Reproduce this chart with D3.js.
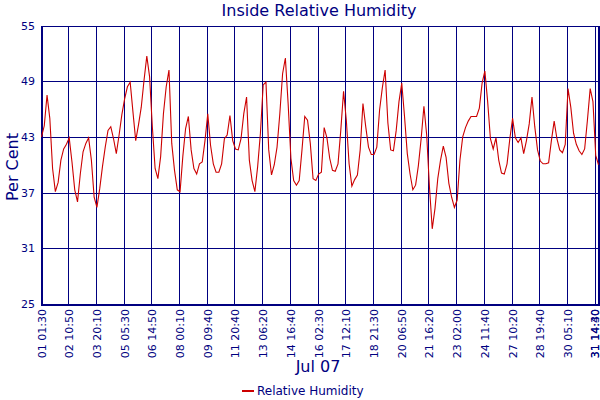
<!DOCTYPE html>
<html>
<head>
<meta charset="utf-8">
<script src="https://cdn.jsdelivr.net/npm/d3@7"></script>
<style>
	body { margin: 0; background: #fff; }
	text { font-family: "DejaVu Sans", Verdana, sans-serif; fill: #000080; }
</style>
</head>
<body>
<div id="root"></div>
<script>
// readings, one sample per ~2.8px of the original x axis
const humidity = [
	43.0, 44.2, 47.5, 45.0, 39.6, 37.1, 38.1, 40.5, 41.7, 42.2,
	42.9, 40.3, 37.3, 36.0, 39.0, 41.4, 42.3, 42.9, 40.5, 36.5,
	35.4, 37.4, 39.8, 41.9, 43.7, 44.1, 42.8, 41.2, 43.2, 45.4,
	47.1, 48.4, 48.9, 45.7, 42.6, 44.3, 46.2, 49.1, 51.7, 49.5,
	44.1, 39.6, 38.5, 40.9, 45.5, 48.4, 50.2, 42.3, 39.4, 37.3,
	37.1, 40.9, 43.9, 45.2, 41.6, 39.6, 39.0, 40.1, 40.3, 42.6,
	45.5, 42.1, 40.1, 39.2, 39.2, 40.1, 42.8, 43.2, 45.3, 42.6,
	41.7, 41.6, 42.8, 45.5, 47.3, 40.5, 38.3, 37.1, 39.8, 43.4,
	48.6, 48.9, 41.6, 38.9, 40.0, 41.9, 45.5, 49.8, 51.5, 46.6,
	40.7, 38.3, 37.8, 38.3, 41.6, 45.2, 44.8, 42.3, 38.5, 38.3,
	39.0, 39.2, 44.0, 42.9, 40.7, 39.4, 39.3, 40.1, 43.7, 47.9,
	44.8, 40.1, 37.7, 38.4, 38.9, 41.6, 46.6, 44.1, 41.9, 41.1,
	41.1, 41.9, 45.9, 48.3, 50.2, 44.5, 41.6, 41.5, 43.7, 46.8,
	48.8, 45.2, 41.2, 39.0, 37.3, 37.8, 39.9, 42.8, 46.3, 43.2,
	37.6, 33.1, 35.3, 38.5, 40.5, 42.0, 40.8, 38.0, 36.5, 35.4,
	36.2, 40.5, 43.0, 44.0, 44.7, 45.2, 45.2, 45.2, 46.1, 48.8,
	50.1, 46.8, 42.8, 41.7, 42.9, 40.5, 39.1, 39.0, 40.1, 42.8,
	45.0, 42.9, 42.4, 42.9, 41.2, 42.6, 44.4, 47.3, 44.1, 41.6,
	40.4, 40.1, 40.1, 40.2, 42.6, 44.7, 42.8, 41.6, 41.3, 42.2,
	48.2, 46.2, 43.4, 42.2, 41.5, 41.1, 41.7, 44.8, 48.2, 46.8,
	41.0, 40.0
]

const tickIndex = [0, 10, 20, 30, 40, 50, 60, 70, 80, 90, 100,
	110, 120, 130, 140, 150, 160, 170, 180, 190, 200, 201]
const tickLabels = ["01 01:30", "02 10:50", "03 20:10", "05 05:30", "06 14:50",
	"08 00:10", "09 09:40", "11 20:40", "13 06:20", "14 16:40", "16 02:30",
	"17 12:10", "18 21:30", "20 06:50", "21 16:20", "23 02:00", "24 11:40",
	"27 10:20", "28 19:40", "30 05:10", "31 14:30", "31 14:40"]
const yTicks = [25, 31, 37, 43, 49, 55]

const width = 600, height = 400
const plotLeft = 41.5, plotRight = 598.5, plotTop = 25.5, plotBottom = 304
const NAVY = "#000080", RED = "#cc0000"

const svg = d3.select('#root')
	.append('svg')
	.attr('width', width)
	.attr('height', height)

const x = d3.scaleLinear()
	.domain([0, humidity.length - 1])
	.range([plotLeft, plotRight])

const y = d3.scaleLinear()
	.domain([25, 55])
	.range([plotBottom, plotTop])

// horizontal grid
svg.append('g')
	.selectAll('line')
	.data(yTicks)
	.enter().append('line')
	.attr('x1', plotLeft).attr('x2', plotRight)
	.attr('y1', d => Math.round(y(d)) + 0.5)
	.attr('y2', d => Math.round(y(d)) + 0.5)
	.attr('stroke', NAVY)
	.attr('shape-rendering', 'crispEdges')

// vertical grid at the labelled samples
svg.append('g')
	.selectAll('line')
	.data(tickIndex)
	.enter().append('line')
	.attr('x1', d => Math.round(x(d)) - 0.5)
	.attr('x2', d => Math.round(x(d)) - 0.5)
	.attr('y1', plotTop).attr('y2', plotBottom)
	.attr('stroke', NAVY)
	.attr('shape-rendering', 'crispEdges')

// frame: thicker left, bottom and right edges
svg.append('path')
	.attr('d', `M${plotLeft},${plotTop}V${plotBottom + 1}H${plotRight}V${plotTop}`)
	.attr('fill', 'none')
	.attr('stroke', NAVY)
	.attr('stroke-width', 2)
	.attr('shape-rendering', 'crispEdges')

const line = d3.line()
	.x((d, i) => x(i))
	.y(d => y(d))

svg.append('path')
	.datum(humidity)
	.attr('d', line)
	.attr('fill', 'none')
	.attr('stroke', RED)
	.attr('stroke-width', 1.1)

// y tick labels
svg.append('g')
	.selectAll('text')
	.data(yTicks)
	.enter().append('text')
	.attr('x', 35)
	.attr('y', d => y(d) + 4)
	.attr('text-anchor', 'end')
	.style('font-size', '11px')
	.text(d => d)

// x tick labels, rotated; the last two are kept inside the page edge
svg.append('g')
	.selectAll('text')
	.data(tickIndex)
	.enter().append('text')
	.attr('transform', d => `translate(${Math.min(x(d) + 4, 598.5)},${plotBottom + 5}) rotate(-90)`)
	.attr('text-anchor', 'end')
	.style('font-size', '11px')
	.text((d, i) => tickLabels[i])

svg.append('text')
	.attr('x', 319)
	.attr('y', 16)
	.attr('text-anchor', 'middle')
	.style('font-size', '16px')
	.text('Inside Relative Humidity')

svg.append('text')
	.attr('transform', 'translate(18,167) rotate(-90)')
	.attr('text-anchor', 'middle')
	.style('font-size', '16px')
	.text('Per Cent')

svg.append('text')
	.attr('x', 318)
	.attr('y', 372)
	.attr('text-anchor', 'middle')
	.style('font-size', '16px')
	.text('Jul 07')

// legend
svg.append('line')
	.attr('x1', 242).attr('x2', 254)
	.attr('y1', 391).attr('y2', 391)
	.attr('stroke', RED)
	.attr('stroke-width', 2)

svg.append('text')
	.attr('x', 257)
	.attr('y', 395)
	.style('font-size', '12px')
	.text('Relative Humidity')
</script>
</body>
</html>
